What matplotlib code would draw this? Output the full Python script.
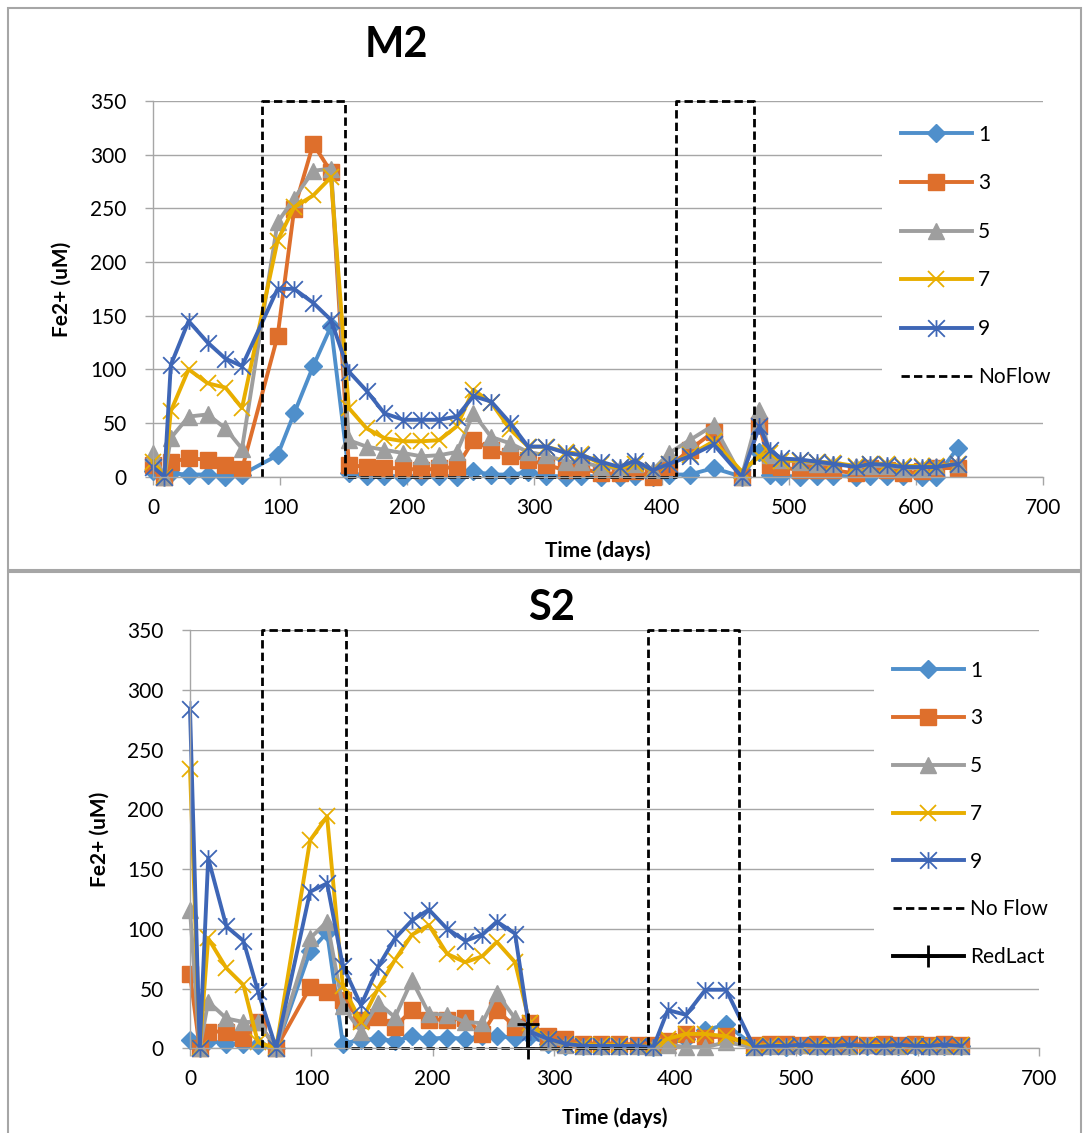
import matplotlib
matplotlib.use("Agg")
import matplotlib.pyplot as plt
from matplotlib.path import Path
from matplotlib.patches import Rectangle

plt.rcParams['font.family'] = ['Lato', 'DejaVu Sans']

# ---- M2 column (top chart) ----
m2_days = [0, 9, 14, 28, 43, 57, 70,
           98, 111, 126, 140,
           154, 168, 182, 197, 211, 225, 239,
           252, 266, 281, 295, 309, 325, 337,
           352, 367, 379, 393, 406, 422, 441,
           463, 477, 485, 494, 509, 522, 535,
           553, 564, 577, 590, 605, 616, 633]
m2_p1 = [5, 0, 3, 2, 2, 0, 2,
         20, 59, 103, 140,
         3, 1, 1, 0, 1, 1, 0,
         5, 2, 2, 4, 1, 0, 1,
         0, 0, 1, 0, 2, 2, 8,
         0, 23, 2, 1, 0, 1, 1,
         0, 1, 1, 1, 0, 0, 27]
m2_p3 = [11, 0, 14, 17, 16, 11, 7,
         131, 249, 310, 284,
         11, 9, 8, 8, 6, 8, 9,
         34, 25, 19, 16, 11, 6, 8,
         3, 3, 5, 0, 9, 25, 42,
         0, 48, 11, 9, 6, 6, 6,
         3, 8, 6, 3, 5, 8, 8]
m2_p5 = [22, 0, 36, 56, 58, 45, 26,
         237, 259, 285, 287,
         34, 28, 25, 22, 19, 20, 23,
         59, 37, 31, 23, 20, 14, 14,
         9, 8, 12, 6, 22, 34, 48,
         0, 62, 20, 16, 14, 12, 12,
         10, 10, 10, 8, 8, 10, 12]
m2_p7 = [14, 0, 61, 100, 87, 83, 64,
         220, 251, 262, 279,
         64, 45, 36, 33, 33, 34, 47,
         81, 69, 44, 28, 28, 23, 21,
         12, 8, 12, 6, 12, 20, 33,
         5, 19, 22, 15, 15, 14, 13,
         10, 12, 12, 10, 10, 10, 12]
m2_p9 = [9, 0, 104, 145, 125, 110, 103,
         175, 175, 162, 146,
         98, 80, 59, 53, 53, 53, 56,
         75, 70, 50, 28, 28, 22, 20,
         14, 9, 15, 6, 12, 19, 30,
         0, 47, 25, 17, 16, 14, 12,
         9, 12, 11, 9, 9, 9, 12]
m2_noflow_x = [86, 86, 151, 151, 411, 411, 473, 473]
m2_noflow_y = [0, 350, 350, 0, 0, 350, 350, 0]

# ---- S2 column (bottom chart) ----
s2_days = [0, 8, 15, 30, 44, 56, 71,
           99, 113, 126,
           141, 155, 169, 183, 197, 212, 227,
           241, 253, 268, 280, 295, 309, 324,
           339, 354, 369, 382, 394, 409, 425,
           442, 465, 478, 491, 503, 517, 530,
           543, 558, 572, 584, 598, 609, 622,
           636]
s2_p1 = [7, 0, 6, 4, 4, 3, 0,
         81, 97, 4,
         7, 8, 6, 10, 8, 9, 8,
         10, 10, 9, 10, 4, 2, 2,
         2, 2, 2, 1, 5, 8, 15,
         20, 2, 2, 1, 2, 2, 2,
         2, 2, 2, 2, 2, 2, 2,
         2]
s2_p3 = [62, 0, 14, 14, 9, 22, 0,
         51, 47, 40,
         24, 26, 18, 32, 24, 24, 25,
         12, 32, 18, 21, 10, 8, 4,
         4, 4, 3, 3, 6, 12, 9,
         10, 3, 4, 4, 3, 4, 3,
         4, 3, 4, 3, 4, 3, 4,
         3]
s2_p5 = [116, 0, 39, 25, 22, 22, 0,
         92, 106, 35,
         14, 38, 26, 57, 29, 28, 22,
         21, 46, 25, 18, 5, 3, 2,
         2, 2, 2, 1, 3, 1, 1,
         5, 1, 2, 2, 3, 2, 2,
         2, 3, 2, 2, 3, 2, 2,
         2]
s2_p7 = [234, 0, 92, 67, 53, 5, 0,
         174, 194, 52,
         22, 50, 74, 95, 103, 79, 72,
         77, 89, 72, 21, 8, 4, 3,
         3, 3, 2, 2, 8, 12, 12,
         10, 2, 3, 3, 2, 3, 3,
         2, 3, 3, 2, 3, 3, 2,
         3]
s2_p9 = [284, 0, 159, 102, 90, 48, 0,
         131, 138, 69,
         36, 68, 92, 107, 116, 100, 90,
         95, 106, 96, 14, 8, 4, 2,
         2, 2, 2, 1, 32, 28, 49,
         49, 1, 2, 2, 3, 2, 2,
         3, 2, 2, 3, 2, 2, 3,
         2]
s2_noflow_x = [59, 59, 129, 129, 378, 378, 453, 453]
s2_noflow_y = [0, 350, 350, 0, 0, 350, 350, 0]
redlact_x = [279, 279]
redlact_y = [0, 20]

port_labels = ['1', '3', '5', '7', '9']

# ---- styling ----
W, H = 1083, 1133
GRID = '#A6A6A6'

# Excel-style star: an x with a vertical bar through it
star = Path([(-1, -1), (1, 1), (-1, 1), (1, -1), (0, -1), (0, 1)],
            [Path.MOVETO, Path.LINETO, Path.MOVETO, Path.LINETO,
             Path.MOVETO, Path.LINETO])

port_styles = [
    dict(color='#4F8FCB', marker='D', ms=9),
    dict(color='#DE6F2C', marker='s', ms=11),
    dict(color='#9E9E9E', marker='^', ms=12),
    dict(color='#E8AE00', marker='x', ms=12, mew=1.3, mfc='none'),
    dict(color='#3E66B6', marker=star, ms=12, mew=1.3, mfc='none'),
]


def fx(px):
    return px / W


def fy(py):
    return 1 - py / H


def make_axes(x0, x1, y0, y1):
    ax = fig.add_axes([fx(x0), fy(y1), fx(x1) - fx(x0), fy(y0) - fy(y1)])
    ax.set_xlim(0, 700)
    ax.set_ylim(0, 350)
    ax.set_xticks(range(0, 701, 100))
    ax.set_yticks(range(0, 351, 50))
    ax.grid(axis='y', color=GRID, lw=1.0)
    ax.set_axisbelow(True)
    for side in ('top', 'right'):
        ax.spines[side].set_visible(False)
    for side in ('left', 'bottom'):
        ax.spines[side].set_color(GRID)
        ax.spines[side].set_linewidth(1.0)
    ax.tick_params(axis='both', direction='out', length=6, width=1,
                   color=GRID, labelsize=15, labelcolor='black')
    ax.tick_params(axis='y', pad=13)
    ax.tick_params(axis='x', pad=9)
    return ax


def draw_ports(ax, days, series):
    for lab, vals, st in zip(port_labels, series, port_styles):
        kw = dict(st)
        kw.setdefault('mfc', kw['color'])
        kw.setdefault('mew', 1.0)
        ax.plot(days, vals, lw=2.8, mec=kw['color'], label=lab,
                clip_on=False, **kw)


def add_legend(ax, x_px, y_px, spacing):
    ax.legend(loc='upper left', bbox_to_anchor=(fx(x_px), fy(y_px)),
              bbox_transform=fig.transFigure, fontsize=15, frameon=True,
              facecolor='white', edgecolor='none', framealpha=1,
              fancybox=False, handlelength=3.4, handletextpad=0.3,
              labelspacing=spacing, borderpad=0.9, borderaxespad=0,
              numpoints=1)


fig = plt.figure(figsize=(W / 100, H / 100), dpi=100)

# chart frames
fig.patches.append(Rectangle((fx(8), fy(570)), fx(1081) - fx(8), fy(8) - fy(570),
                             transform=fig.transFigure, fill=False,
                             edgecolor=GRID, lw=1.5))
fig.patches.append(Rectangle((fx(8), fy(1140)), fx(1081) - fx(8), fy(572) - fy(1140),
                             transform=fig.transFigure, fill=False,
                             edgecolor=GRID, lw=1.5))

# top chart: M2
ax1 = make_axes(153, 1043, 101, 476.7)
draw_ports(ax1, m2_days, [m2_p1, m2_p3, m2_p5, m2_p7, m2_p9])
ax1.plot(m2_noflow_x, m2_noflow_y, color='black', lw=2, ls=(0, (3, 1.5)),
         label='NoFlow', clip_on=False)
add_legend(ax1, 882, 106, 1.37)
fig.text(fx(396), fy(45), 'M2', ha='center', va='center', fontsize=30,
         fontweight='bold')
fig.text(fx(598), fy(551), 'Time (days)', ha='center', va='center',
         fontsize=15, fontweight='bold')
fig.text(fx(62), fy(289), 'Fe2+ (uM)', ha='center', va='center',
         rotation=90, fontsize=15, fontweight='bold')

# bottom chart: S2
ax2 = make_axes(190, 1039, 630, 1048.3)
draw_ports(ax2, s2_days, [s2_p1, s2_p3, s2_p5, s2_p7, s2_p9])
ax2.plot(s2_noflow_x, s2_noflow_y, color='black', lw=2, ls=(0, (3, 1.5)),
         label='No Flow', clip_on=False)
ax2.plot(redlact_x, redlact_y, color='black', lw=2.8, marker='+', ms=16,
         mew=2, label='RedLact', clip_on=False)
add_legend(ax2, 874, 642, 1.33)
fig.text(fx(552), fy(608), 'S2', ha='center', va='center', fontsize=30,
         fontweight='bold')
fig.text(fx(614.5), fy(1118), 'Time (days)', ha='center', va='center',
         fontsize=15, fontweight='bold')
fig.text(fx(100), fy(839), 'Fe2+ (uM)', ha='center', va='center',
         rotation=90, fontsize=15, fontweight='bold')

fig.savefig('out.png', dpi=100, facecolor='white')
